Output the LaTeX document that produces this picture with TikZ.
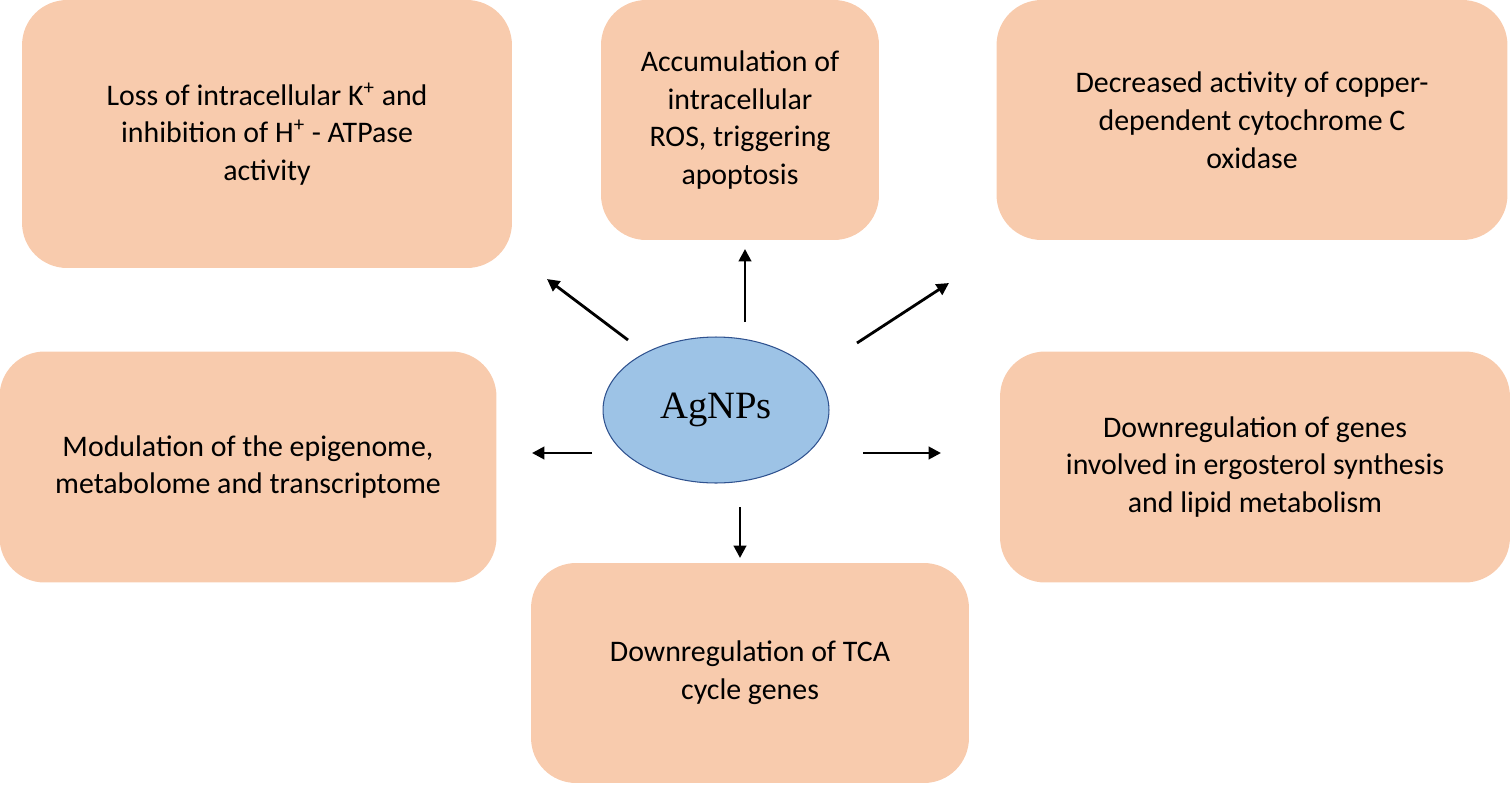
\documentclass[tikz,border=0pt]{standalone}
\usepackage{fontspec}
\setmainfont{Carlito}
\newfontfamily\timesfont{Liberation Serif}
\usetikzlibrary{arrows.meta,shapes.geometric}
\definecolor{BoxFill}{HTML}{F8CBAD}
\definecolor{EllFill}{HTML}{9DC3E6}
\definecolor{EllLine}{HTML}{2F528F}
\tikzset{
  effect/.style={fill=BoxFill, draw=none, rounded corners=0.9cm, align=center,
    font=\fontsize{17}{21.5}\selectfont, inner sep=0pt},
  push/.style={-{Triangle[length=7pt,width=7pt]}, line width=1.6pt}
}
\begin{document}
\begin{tikzpicture}[x=0.02cm,y=-0.02cm]
 \useasboundingbox (0,0) rectangle (1512,785);

 % Centre
 \node[ellipse, fill=EllFill, draw=EllLine, line width=0.6pt, minimum width=4.52cm, minimum height=2.92cm,
   font=\timesfont\fontsize{22}{26}\selectfont] (ag) at (716,410) {AgNPs};

 % Effects
 \node[effect, minimum width=9.8cm, minimum height=5.36cm] (loss) at (267,134)
   {Loss of intracellular K\textsuperscript{+} and\\inhibition of H\textsuperscript{+} - ATPase\\activity};
 \node[effect, minimum width=5.56cm, minimum height=4.8cm] (ros) at (740,120)
   {Accumulation of\\intracellular\\ROS, triggering\\apoptosis};
 \node[effect, minimum width=10.22cm, minimum height=4.8cm] (cyt) at (1252,120)
   {Decreased activity of copper-\\dependent cytochrome C\\oxidase};
 \node[effect, minimum width=9.94cm, minimum height=4.62cm] (epi) at (248,467)
   {Modulation of the epigenome,\\metabolome and transcriptome};
 \node[effect, minimum width=10.2cm, minimum height=4.62cm] (erg) at (1255,467)
   {Downregulation of genes\\involved in ergosterol synthesis\\and lipid metabolism};
 \node[effect, minimum width=8.76cm, minimum height=4.4cm] (tca) at (750,673)
   {Downregulation of TCA\\cycle genes};

 % Arrows
 \coordinate (a1) at (628,340); \coordinate (b1) at (547,279);
 \coordinate (a2) at (745,322); \coordinate (b2) at (745,249);
 \coordinate (a3) at (857,343); \coordinate (b3) at (949,283);
 \coordinate (a4) at (592,453); \coordinate (b4) at (532,453);
 \coordinate (a5) at (863,453); \coordinate (b5) at (941,453);
 \coordinate (a6) at (740,507); \coordinate (b6) at (740,558);
 \foreach \i in {1,...,6} \draw[push] (a\i) -- (b\i);
\end{tikzpicture}
\end{document}
